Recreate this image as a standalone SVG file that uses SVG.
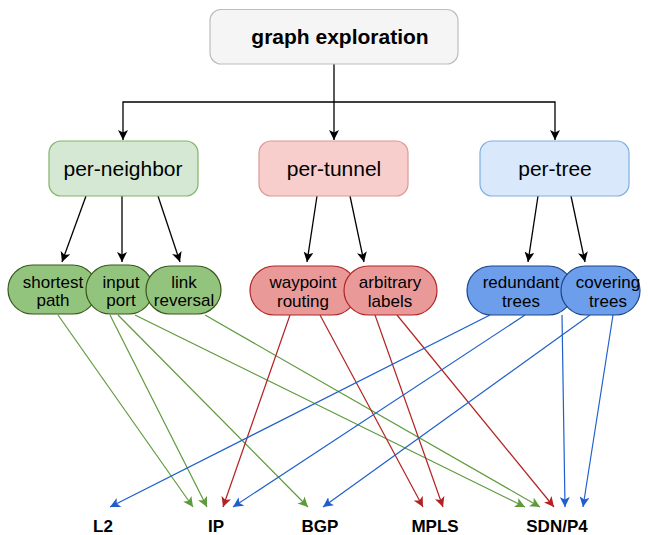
<svg xmlns="http://www.w3.org/2000/svg" width="648" height="535" viewBox="0 0 648 535">
<defs>
<style>
text{font-family:"Liberation Sans",Arial,sans-serif;text-anchor:middle;fill:#000}
.t1{font-size:21px;font-weight:bold}
.t2{font-size:21px}
.t3{font-size:17px}
.t4{font-size:17px;font-weight:bold}
.k{stroke:#000;stroke-width:1.3;fill:none}
.g{stroke:#5e9a3c;stroke-width:1.2;fill:none}
.r{stroke:#b22222;stroke-width:1.2;fill:none}
.b{stroke:#1f5fcc;stroke-width:1.2;fill:none}
.gn{fill:#93c47d;stroke:#38571a;stroke-width:1.2}
.rn{fill:#ea9999;stroke:#b22222;stroke-width:1.2}
.bn{fill:#6d9eeb;stroke:#1c4587;stroke-width:1.2}
</style>
<marker id="mk" markerWidth="10" markerHeight="10" refX="10" refY="5" orient="auto" markerUnits="userSpaceOnUse"><path d="M0,0 L10,5 L0,10 L2.5,5 z" fill="#000"/></marker>
<marker id="mg" markerWidth="10" markerHeight="10" refX="10" refY="5" orient="auto" markerUnits="userSpaceOnUse"><path d="M0,0 L10,5 L0,10 L2.5,5 z" fill="#5e9a3c"/></marker>
<marker id="mr" markerWidth="10" markerHeight="10" refX="10" refY="5" orient="auto" markerUnits="userSpaceOnUse"><path d="M0,0 L10,5 L0,10 L2.5,5 z" fill="#b22222"/></marker>
<marker id="mb" markerWidth="10" markerHeight="10" refX="10" refY="5" orient="auto" markerUnits="userSpaceOnUse"><path d="M0,0 L10,5 L0,10 L2.5,5 z" fill="#1f5fcc"/></marker>
</defs>
<rect width="648" height="535" fill="#fff"/>
<g id="connectors">
<path class="k" d="M334,64 V140" marker-end="url(#mk)"/>
<path class="k" d="M334,102 H123 V140" marker-end="url(#mk)"/>
<path class="k" d="M334,102 H555 V140" marker-end="url(#mk)"/>
<path class="k" d="M86,196 L62,262" marker-end="url(#mk)"/>
<path class="k" d="M122,196 L122,262" marker-end="url(#mk)"/>
<path class="k" d="M158,196 L180,262" marker-end="url(#mk)"/>
<path class="k" d="M317,196 L307,262" marker-end="url(#mk)"/>
<path class="k" d="M350,196 L364,262" marker-end="url(#mk)"/>
<path class="k" d="M538,196 L528,262" marker-end="url(#mk)"/>
<path class="k" d="M571,196 L585,262" marker-end="url(#mk)"/>
<path class="g" d="M58,315 L193,507" marker-end="url(#mg)"/>
<path class="g" d="M110,315 L207,507" marker-end="url(#mg)"/>
<path class="g" d="M118,315 L308,507" marker-end="url(#mg)"/>
<path class="g" d="M135,315 L525,507" marker-end="url(#mg)"/>
<path class="g" d="M205,315 L540,507" marker-end="url(#mg)"/>
<path class="r" d="M290,315 L223,507" marker-end="url(#mr)"/>
<path class="r" d="M320,315 L423,507" marker-end="url(#mr)"/>
<path class="r" d="M375,315 L443,507" marker-end="url(#mr)"/>
<path class="r" d="M397,315 L554,507" marker-end="url(#mr)"/>
<path class="b" d="M490,315 L110,507" marker-end="url(#mb)"/>
<path class="b" d="M525,315 L233,507" marker-end="url(#mb)"/>
<path class="b" d="M562,315 L565,507" marker-end="url(#mb)"/>
<path class="b" d="M590,315 L323,507" marker-end="url(#mb)"/>
<path class="b" d="M613,315 L583,507" marker-end="url(#mb)"/>
</g>
<g id="graph-exploration">
<rect x="210" y="9.5" width="248" height="54.5" rx="11" fill="#f5f5f5" stroke="#bdbdbd" stroke-width="1.2"/>
<text class="t1" x="340" y="44">graph exploration</text>
</g>
<g id="per-neighbor">
<rect x="49" y="141" width="149" height="55" rx="12" fill="#d5e8d4" stroke="#82b366" stroke-width="1.2"/>
<text class="t2" x="123" y="176">per-neighbor</text>
</g>
<g id="per-tunnel">
<rect x="259" y="141" width="149" height="55" rx="12" fill="#f8cecc" stroke="#dc9896" stroke-width="1.2"/>
<text class="t2" x="334" y="176">per-tunnel</text>
</g>
<g id="per-tree">
<rect x="480" y="141" width="149" height="55" rx="12" fill="#dae8fc" stroke="#7eaee0" stroke-width="1.2"/>
<text class="t2" x="555" y="176">per-tree</text>
</g>
<g id="shortest-path">
<rect x="8" y="265" width="89" height="49" rx="24.5" class="gn"/>
<text class="t3" x="53" y="288">shortest</text>
<text class="t3" x="53" y="306">path</text>
</g>
<g id="input-port">
<rect x="86" y="265" width="67" height="49" rx="24.5" class="gn"/>
<text class="t3" x="121" y="288">input</text>
<text class="t3" x="121" y="306">port</text>
</g>
<g id="link-reversal">
<rect x="146" y="266" width="75" height="48" rx="24" class="gn"/>
<text class="t3" x="184" y="288">link</text>
<text class="t3" x="184" y="306">reversal</text>
</g>
<g id="waypoint-routing">
<rect x="250" y="266" width="107" height="49" rx="24.5" class="rn"/>
<text class="t3" x="303" y="288">waypoint</text>
<text class="t3" x="303" y="307">routing</text>
</g>
<g id="arbitrary-labels">
<rect x="344" y="266" width="93" height="49" rx="24.5" class="rn"/>
<text class="t3" x="390" y="288">arbitrary</text>
<text class="t3" x="390" y="307">labels</text>
</g>
<g id="redundant-trees">
<rect x="467" y="266" width="106" height="49" rx="24.5" class="bn"/>
<text class="t3" x="521" y="288">redundant</text>
<text class="t3" x="521" y="307">trees</text>
</g>
<g id="covering-trees">
<rect x="561" y="266" width="79" height="49" rx="24.5" class="bn"/>
<text class="t3" x="608" y="288">covering</text>
<text class="t3" x="608" y="307">trees</text>
</g>
<g id="L2"><text class="t4" x="103" y="532">L2</text></g>
<g id="IP"><text class="t4" x="216" y="532">IP</text></g>
<g id="BGP"><text class="t4" x="320" y="532">BGP</text></g>
<g id="MPLS"><text class="t4" x="435" y="532">MPLS</text></g>
<g id="SDN-P4"><text class="t4" x="557" y="532">SDN/P4</text></g>
</svg>
